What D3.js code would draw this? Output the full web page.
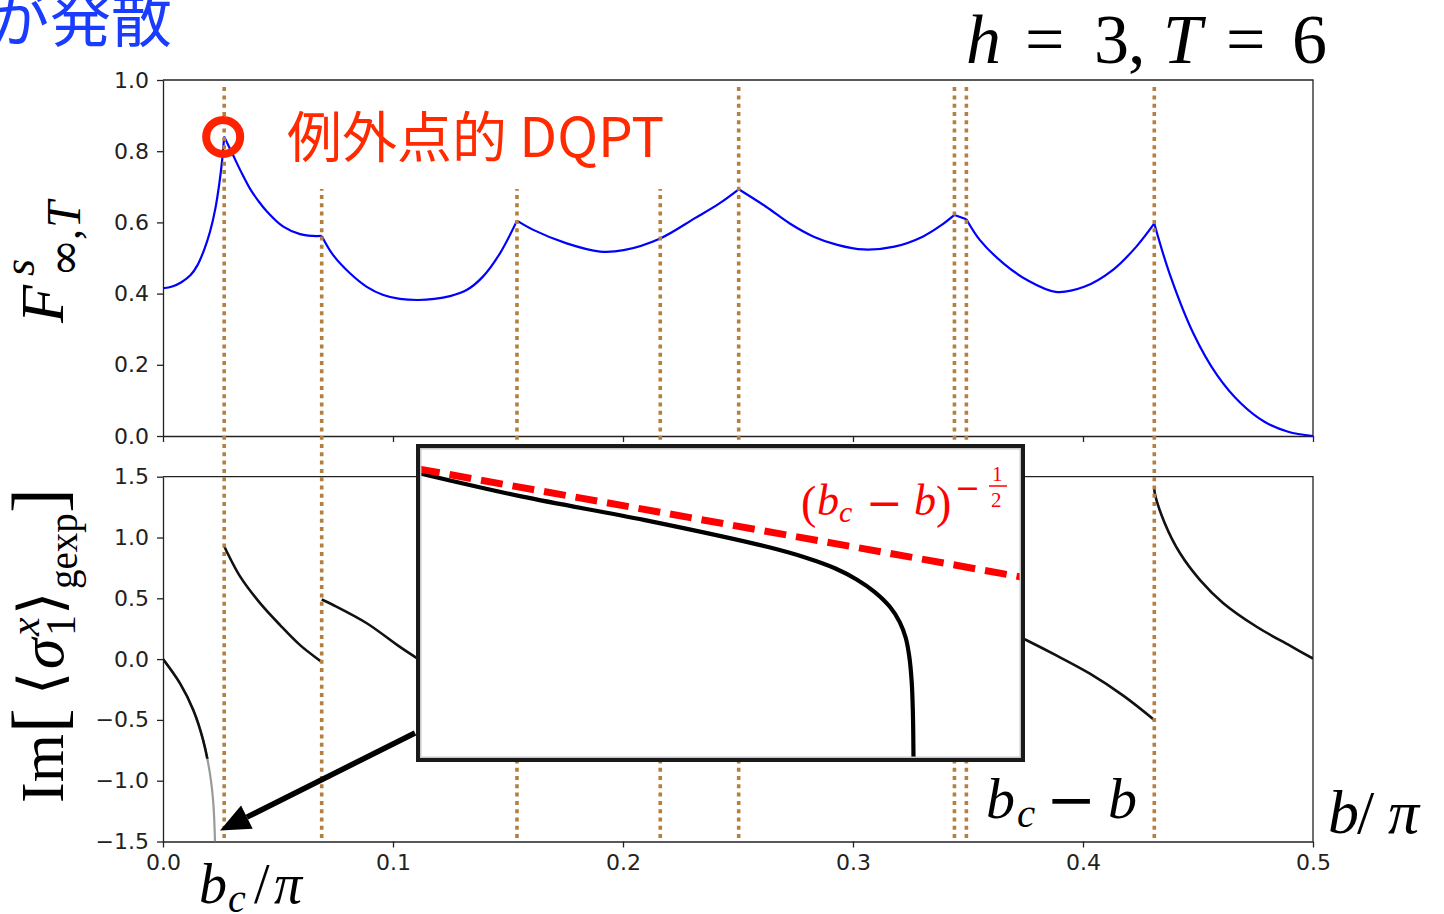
<!DOCTYPE html>
<html>
<head>
<meta charset="utf-8">
<script src="https://cdn.jsdelivr.net/npm/d3@7"></script>
<style>
body { margin: 0; background: #fff; }
svg { display: block; }
.tick text { font-family: "DejaVu Sans"; font-size: 22px; fill: #222; }
.tick line, .domain { stroke: #222; stroke-width: 1.3; }
.math { font-family: "Liberation Serif", "DejaVu Serif", serif; }
.minus { font-family: "DejaVu Serif", serif; }
</style>
</head>
<body>
<svg id="chart" width="1444" height="914"></svg>
<script>
// top panel: F^s_{inf,T} vs b/pi
var bTop = [0, 0.004, 0.008, 0.012, 0.015, 0.018, 0.0205, 0.0228, 0.0245, 0.0258, 0.0266,
    0.0306, 0.0345, 0.0378, 0.0415, 0.045, 0.0523, 0.0596, 0.065, 0.069,
    0.074, 0.0813, 0.0886, 0.0958, 0.103, 0.111, 0.118, 0.1248, 0.132, 0.139, 0.1465, 0.1539,
    0.161, 0.1755, 0.19, 0.2003, 0.2162, 0.2313, 0.2416, 0.2503,
    0.2622, 0.2725, 0.2829, 0.2932, 0.3045, 0.318, 0.3303, 0.3386, 0.3441, 0.3493,
    0.3551, 0.3654, 0.3757, 0.3881, 0.4005, 0.4129, 0.4232, 0.431,
    0.4376, 0.448, 0.4583, 0.4686, 0.4789, 0.4892, 0.5];
var fTop = [0.415, 0.42, 0.432, 0.452, 0.48, 0.525, 0.575, 0.64, 0.71, 0.78, 0.841,
    0.787, 0.735, 0.695, 0.66, 0.632, 0.588, 0.567, 0.562, 0.562,
    0.508, 0.457, 0.419, 0.396, 0.385, 0.382, 0.385, 0.393, 0.41, 0.447, 0.513, 0.605,
    0.579, 0.541, 0.518, 0.522, 0.555, 0.612, 0.652, 0.693,
    0.644, 0.597, 0.56, 0.537, 0.524, 0.532, 0.56, 0.593, 0.621, 0.609,
    0.551, 0.485, 0.438, 0.405, 0.419, 0.466, 0.532, 0.597,
    0.457, 0.288, 0.171, 0.092, 0.04, 0.012, 0.0];

// DQPT positions (dotted lines)
var dqpt = [0.0266, 0.069, 0.1539, 0.2162, 0.2503, 0.3441, 0.3493, 0.431];

// bottom panel: Im<sigma> segments
var seg1B = [0, 0.0074, 0.0132, 0.0175, 0.0204, 0.0219, 0.0226];
var seg1V = [0, -0.2, -0.42, -0.67, -0.94, -1.19, -1.5];
var seg1Gray = -0.82;   // below this the line fades to grey
var seg2B = [0.0266, 0.0277, 0.0335, 0.0422, 0.0509, 0.0596, 0.0683, 0.069];
var seg2V = [0.93, 0.885, 0.68, 0.46, 0.28, 0.115, -0.014, -0.024];
var seg3B = [0.069, 0.074, 0.0886, 0.103, 0.111];
var seg3V = [0.49, 0.445, 0.295, 0.10, 0.0];
var seg4B = [0.37, 0.3755, 0.3886, 0.403, 0.4175, 0.431];
var seg4V = [0.205, 0.155, 0.028, -0.12, -0.3, -0.5];
var seg5B = [0.431, 0.4312, 0.4355, 0.4422, 0.4509, 0.461, 0.4755, 0.49, 0.5];
var seg5V = [1.42, 1.365, 1.12, 0.87, 0.65, 0.46, 0.266, 0.11, 0.005];

// inset (log-log, unitless)
var inU = [0, 0.1726, 0.375, 0.577, 0.64, 0.69, 0.725, 0.755, 0.78, 0.796, 0.806, 0.812, 0.816, 0.818, 0.819];
var inV = [0.914, 0.8386, 0.764, 0.679, 0.645, 0.61, 0.575, 0.535, 0.488, 0.44, 0.39, 0.33, 0.25, 0.15, 0.006];
var fitU = [0, 0.997];
var fitV = [0.927, 0.583];

var xTicks = [0, 0.1, 0.2, 0.3, 0.4, 0.5];
var fTicks = [0, 0.2, 0.4, 0.6, 0.8, 1.0];
var imTicks = [-1.5, -1.0, -0.5, 0, 0.5, 1.0, 1.5];

function zip(a, b) { return a.map(function(d, i) { return [d, b[i]]; }); }

var svg = d3.select("#chart");
var defs = svg.append("defs");
var x = d3.scaleLinear().domain([0, 0.5]).range([163, 1313]);
var yTop = d3.scaleLinear().domain([0, 1]).range([436, 80]);
var yBot = d3.scaleLinear().domain([-1.5, 1.5]).range([841.5, 476.7]);
var fmt = d3.format(".1f");

// ---- top panel axes
var gTop = svg.append("g");
gTop.append("g").attr("transform", "translate(0,436)")
    .call(d3.axisBottom(x).tickValues(xTicks).tickSize(6).tickSizeOuter(0).tickPadding(7).tickFormat(fmt));
gTop.append("g").attr("transform", "translate(163,0)")
    .call(d3.axisLeft(yTop).tickValues(fTicks).tickSize(6).tickSizeOuter(0).tickPadding(8).tickFormat(fmt));
gTop.append("path")
    .attr("d", "M" + x(0) + "," + yTop(1) + "H" + x(0.5) + "V" + yTop(0))
    .attr("fill", "none").attr("stroke", "#222").attr("stroke-width", 1.3);

// bottom panel sits over the top panel's x labels
svg.append("rect").attr("x", 90).attr("y", 445).attr("width", 1260).attr("height", 32).attr("fill", "#fff");

var gBot = svg.append("g");
gBot.append("g").attr("transform", "translate(0," + yBot(-1.5) + ")")
    .call(d3.axisBottom(x).tickValues(xTicks).tickSize(6).tickSizeOuter(0).tickPadding(7).tickFormat(fmt));
gBot.append("g").attr("transform", "translate(163,0)")
    .call(d3.axisLeft(yBot).tickValues(imTicks).tickSize(6).tickSizeOuter(0).tickPadding(8).tickFormat(fmt));
gBot.append("path")
    .attr("d", "M" + x(0) + "," + yBot(1.5) + "H" + x(0.5) + "V" + yBot(-1.5))
    .attr("fill", "none").attr("stroke", "#222").attr("stroke-width", 1.3);

// ---- blue curve, split at cusps
var topPts = zip(bTop, fTop);
var cuts = [0].concat(dqpt.filter(function(d) { return d !== 0.2162; }), [0.5]);
var lineTop = d3.line().x(function(d) { return x(d[0]); }).y(function(d) { return yTop(d[1]); })
    .curve(d3.curveCatmullRom.alpha(0.5));
for (var k = 0; k < cuts.length - 1; k++) {
    var lo = cuts[k], hi = cuts[k + 1];
    var part = topPts.filter(function(d) { return d[0] >= lo && d[0] <= hi; });
    gTop.append("path").attr("d", lineTop(part))
        .attr("fill", "none").attr("stroke", "#0000ff").attr("stroke-width", 2.2);
}

// ---- bottom black curves
defs.append("clipPath").attr("id", "clipBot").append("rect")
    .attr("x", x(0)).attr("y", yBot(1.5)).attr("width", x(0.5) - x(0)).attr("height", yBot(-1.5) - yBot(1.5));
defs.append("clipPath").attr("id", "clipDark").append("rect")
    .attr("x", x(0)).attr("y", yBot(1.5)).attr("width", x(0.5) - x(0)).attr("height", yBot(seg1Gray) - yBot(1.5));
var lineBot = d3.line().x(function(d) { return x(d[0]); }).y(function(d) { return yBot(d[1]); })
    .curve(d3.curveCatmullRom.alpha(0.5));
var gCurves = gBot.append("g").attr("clip-path", "url(#clipBot)");
var seg1 = lineBot(zip(seg1B, seg1V));
gCurves.append("path").attr("d", seg1).attr("fill", "none").attr("stroke", "#9a9a9a").attr("stroke-width", 2.2);
gCurves.append("path").attr("d", seg1).attr("clip-path", "url(#clipDark)")
    .attr("fill", "none").attr("stroke", "#111").attr("stroke-width", 2.6);
[[seg2B, seg2V], [seg3B, seg3V], [seg4B, seg4V], [seg5B, seg5V]].forEach(function(s) {
    gCurves.append("path").attr("d", lineBot(zip(s[0], s[1])))
        .attr("fill", "none").attr("stroke", "#111").attr("stroke-width", 2.6);
});

// ---- dotted DQPT lines
svg.append("g").selectAll("line").data(dqpt).enter().append("line")
    .attr("x1", function(d) { return x(d); }).attr("x2", function(d) { return x(d); })
    .attr("y1", yTop(0.98)).attr("y2", yBot(-1.48))
    .attr("stroke", "#b3803f").attr("stroke-width", 3.6).attr("stroke-dasharray", "4,4.3");

// ---- exceptional-point label
svg.append("rect").attr("x", 275).attr("y", 84).attr("width", 395).attr("height", 105).attr("fill", "#fff");
svg.append("circle").attr("cx", x(dqpt[0]) - 1).attr("cy", yTop(0.84)).attr("r", 17)
    .attr("fill", "none").attr("stroke", "#ff2200").attr("stroke-width", 8);
svg.append("text").attr("x", 287).attr("y", 157)
    .attr("font-family", "Noto Sans CJK JP").attr("font-size", 55).attr("fill", "#ff2a00")
    .text("例外点的 DQPT");

// blue text, cut at the left edge
svg.append("text").attr("x", 172).attr("y", 42).attr("text-anchor", "end")
    .attr("font-family", "Noto Sans CJK JP").attr("font-size", 61).attr("fill", "#1a3cff")
    .text("が発散");

// ---- title h = 3, T = 6
var title = svg.append("text").attr("class", "math").attr("y", 63).attr("font-size", 70).attr("fill", "#000");
[["h", 966, true], ["=", 1025, false], ["3", 1094, false], [",", 1128, false],
 ["T", 1163, true], ["=", 1226, false], ["6", 1292, false]].forEach(function(p) {
    title.append("tspan").attr("x", p[1]).attr("font-style", p[2] ? "italic" : "normal").text(p[0]);
});

// ---- y labels (rotated)
function piece(g, s, px, py, size, italic, family) {
    g.append("text").attr("class", family ? null : "math").attr("x", px).attr("y", py)
        .attr("font-size", size).attr("font-style", italic ? "italic" : "normal")
        .attr("font-family", family || null).attr("fill", "#000").text(s);
}
var yl1 = svg.append("g").attr("transform", "translate(63,323) rotate(-90)");
piece(yl1, "F", 0, 0, 62, true);
piece(yl1, "s", 47, -29, 44, true);
piece(yl1, "∞", 46, 17, 46, false, "DejaVu Serif");
piece(yl1, ",", 83, 17, 44, false);
piece(yl1, "T", 95, 17, 48, true);

var yl2 = svg.append("g").attr("transform", "translate(63,803) rotate(-90)");
piece(yl2, "Im", 0, 0, 62, false);
piece(yl2, "[", 70, 0, 74, false);
piece(yl2, "⟨", 108, -2, 60, false, "DejaVu Serif");
piece(yl2, "σ", 134, 0, 62, true);
piece(yl2, "x", 167, -24, 42, true);
piece(yl2, "1", 167, 12, 42, false);
piece(yl2, "⟩", 188, -2, 60, false, "DejaVu Serif");
piece(yl2, "gexp", 214, 14, 39, false);
piece(yl2, "]", 290, 0, 74, false);

// ---- x-axis math labels
function mathLabel(pieces, base, fill) {
    var t = svg.append("text").attr("class", "math").attr("fill", fill || "#000");
    pieces.forEach(function(p) {
        t.append("tspan").attr("x", p[1]).attr("y", base + (p[4] || 0))
            .attr("class", p[0] === "−" ? "minus" : null)
            .attr("font-size", p[3]).attr("font-style", p[2] ? "italic" : "normal").text(p[0]);
    });
}
mathLabel([["b", 199, true, 56], ["c", 228, true, 40, 9], ["/", 254, false, 56], ["π", 274, true, 56]], 903);
mathLabel([["b", 986, true, 58], ["c", 1017, true, 41, 9], ["−", 1046, false, 60, 2], ["b", 1108, true, 58]], 818);
mathLabel([["b", 1328, true, 62], ["/", 1357, false, 62], ["π", 1388, true, 62]], 833);

// ---- inset
var xIn = d3.scaleLinear().domain([0, 1]).range([418, 1023]);
var yIn = d3.scaleLinear().domain([0, 1]).range([760, 446]);
var gIn = svg.append("g");
gIn.append("rect").attr("x", xIn(0)).attr("y", yIn(1)).attr("width", xIn(1) - xIn(0)).attr("height", yIn(0) - yIn(1))
    .attr("fill", "#fff");
defs.append("clipPath").attr("id", "clipIn").append("rect")
    .attr("x", xIn(0)).attr("y", yIn(1)).attr("width", xIn(1) - xIn(0)).attr("height", yIn(0) - yIn(1));
var soft = defs.append("filter").attr("id", "soft");
soft.append("feGaussianBlur").attr("stdDeviation", 0.7);
var gInC = gIn.append("g").attr("clip-path", "url(#clipIn)").attr("filter", "url(#soft)");
gInC.append("path")
    .attr("d", d3.line().x(function(d) { return xIn(d[0]); }).y(function(d) { return yIn(d[1]); })
        .curve(d3.curveCatmullRom.alpha(0.5))(zip(inU, inV)))
    .attr("fill", "none").attr("stroke", "#000").attr("stroke-width", 4.2);
gInC.append("path")
    .attr("d", d3.line().x(function(d) { return xIn(d[0]); }).y(function(d) { return yIn(d[1]); })(zip(fitU, fitV)))
    .attr("fill", "none").attr("stroke", "#ff0000").attr("stroke-width", 7).attr("stroke-dasharray", "22,10");
gIn.append("rect").attr("x", xIn(0) + 2.5).attr("y", yIn(1) + 2.5).attr("width", xIn(1) - xIn(0) - 5).attr("height", yIn(0) - yIn(1) - 5)
    .attr("fill", "none").attr("stroke", "#c8c8c8").attr("stroke-width", 2);
gIn.append("rect").attr("x", xIn(0)).attr("y", yIn(1)).attr("width", xIn(1) - xIn(0)).attr("height", yIn(0) - yIn(1))
    .attr("fill", "none").attr("stroke", "#1a1a1a").attr("stroke-width", 4);

// inset label (b_c - b)^{-1/2}
var lab = svg.append("g").attr("fill", "#ff0000");
function rtext(s, px, py, size, italic) {
    lab.append("text").attr("class", s === "−" ? "minus" : "math").attr("x", px).attr("y", py).attr("font-size", size)
        .attr("font-style", italic ? "italic" : "normal").text(s);
}
rtext("(", 801, 518, 46, false);
rtext("b", 817, 515, 44, true);
rtext("c", 839, 522, 30, true);
rtext("−", 866, 518, 44, false);
rtext("b", 914, 515, 44, true);
rtext(")", 936, 518, 46, false);
rtext("−", 955, 498, 30, false);
rtext("1", 992, 481, 21, false);
rtext("2", 991, 507, 21, false);
lab.append("line").attr("x1", 989).attr("x2", 1007).attr("y1", 486).attr("y2", 486)
    .attr("stroke", "#ff0000").attr("stroke-width", 1.5);

// ---- arrow to b_c
var tip = [x(0.0248), yBot(-1.41)];
var tail = [xIn(0) - 3, 733];
var ang = Math.atan2(tip[1] - tail[1], tip[0] - tail[0]);
var hl = 30, hw = 13;
var bx = tip[0] - hl * Math.cos(ang), by = tip[1] - hl * Math.sin(ang);
svg.append("line").attr("x1", tail[0]).attr("y1", tail[1]).attr("x2", bx).attr("y2", by)
    .attr("stroke", "#000").attr("stroke-width", 5.5);
svg.append("path")
    .attr("d", "M" + tip[0] + "," + tip[1] +
        "L" + (bx + hw * Math.sin(ang)) + "," + (by - hw * Math.cos(ang)) +
        "L" + (bx - hw * Math.sin(ang)) + "," + (by + hw * Math.cos(ang)) + "Z")
    .attr("fill", "#000");
</script>
</body>
</html>
